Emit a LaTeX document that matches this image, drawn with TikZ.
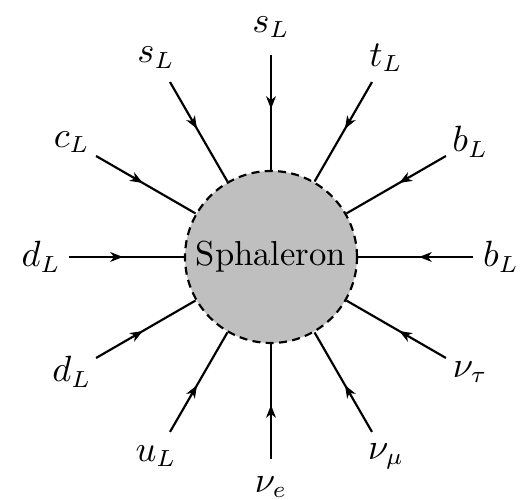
\documentclass[tikz,border=0pt]{standalone}
\usetikzlibrary{decorations.markings,arrows.meta,calc}
\begin{document}
\begin{tikzpicture}[x=0.3pt,y=0.3pt,line width=0.65pt,
  fermion/.style={postaction={decorate},decoration={markings,mark=at position 0.47 with {\arrow{Stealth[length=3.8pt,width=2.9pt,inset=1.1pt]}}}},
  blob/.style={circle,draw,dash pattern=on 2.4pt off 1.6pt,fill=black!25,minimum size=51.6pt,inner sep=0pt,font=\fontsize{10.4}{12}\selectfont},
  lab/.style={inner sep=0pt,font=\fontsize{10.6}{12}\selectfont}]
\useasboundingbox (0,0) rectangle (522,500);
\coordinate (C) at (271,243);
\node[blob] (S) at (C) {Sphaleron};
\foreach \a/\t [count=\i] in {90/s_L,120/s_L,150/c_L,180/d_L,210/d_L,240/u_L,270/\nu_e,300/\nu_\mu,330/\nu_\tau,0/b_L,30/b_L,60/t_L} {
  \coordinate (o\i) at ($(C)+(\a:202)$);
  \node[lab] (l\i) at ($(C)+(\a:230)$) {$\t$};
  \draw[fermion] (o\i) -- (S);
}
\end{tikzpicture}
\end{document}
